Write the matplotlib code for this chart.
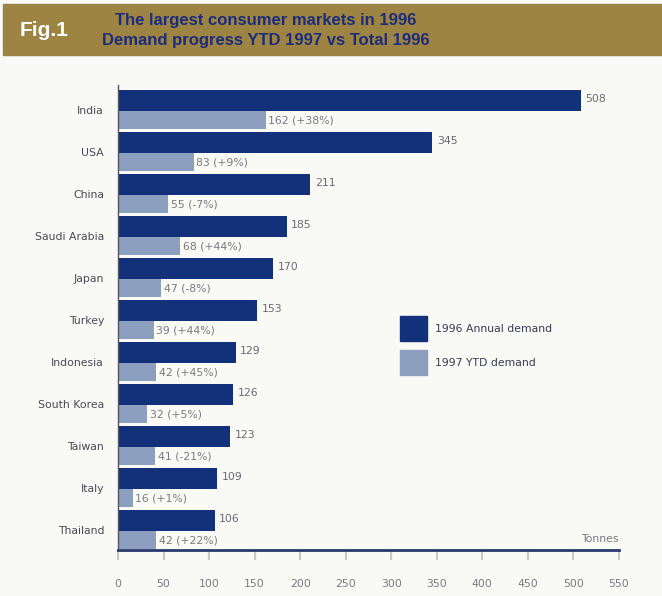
import matplotlib.pyplot as plt
from matplotlib.patches import Rectangle

countries = ["India", "USA", "China", "Saudi Arabia", "Japan", "Turkey",
             "Indonesia", "South Korea", "Taiwan", "Italy", "Thailand"]
annual_1996 = [508, 345, 211, 185, 170, 153, 129, 126, 123, 109, 106]
ytd_1997 = [162, 83, 55, 68, 47, 39, 42, 32, 41, 16, 42]
ytd_change = ["+38%", "+9%", "-7%", "+44%", "-8%", "+44%", "+45%", "+5%",
              "-21%", "+1%", "+22%"]
xticks = [0, 50, 100, 150, 200, 250, 300, 350, 400, 450, 500, 550]
series_names = ["1996 Annual demand", "1997 YTD demand"]

DARK = "#13307a"
LIGHT = "#8d9fbf"
BG = "#f9f9f5"
GOLD = "#9d8443"
GREY = "#7a7a80"
W, H = 662, 596

plt.rcParams['font.family'] = ['DejaVu Sans']

fig = plt.figure(figsize=(6.62, 5.96), dpi=100)
fig.patch.set_facecolor(BG)

# header band
fig.patches.append(Rectangle((0.005, 1 - 55 / H), 0.995, 51 / H,
                             transform=fig.transFigure, color=GOLD, zorder=0))
fig.text(0.03, 1 - 30 / H, "Fig.1", color="white", fontsize=15,
         fontweight="bold", va="center", ha="left",
         family=['Liberation Sans', 'DejaVu Sans'])
for yy, line in [(20, "The largest consumer markets in 1996"),
                 (41, "Demand progress YTD 1997 vs Total 1996")]:
    fig.text(0.402, 1 - yy / H, line, color="#1c2c7a", fontsize=12,
             fontweight="bold", ha="center", va="center",
             family=['Liberation Sans', 'DejaVu Sans'])

ax = fig.add_axes([118 / W, 1 - 550 / H, (619 - 118) / W, 465 / H])
ax.set_facecolor(BG)

pos = list(range(len(countries)))
dark_y = [p + 0.25 for p in pos]
light_y = [p + 0.715 for p in pos]
ax.barh(dark_y, annual_1996, height=0.5, color=DARK)
ax.barh(light_y, ytd_1997, height=0.43, color=LIGHT)

for y, v in zip(dark_y, annual_1996):
    ax.text(v + 5, y - 0.04, str(v), color="#6a6a72", fontsize=7.8, va="center")
for y, v, c in zip(light_y, ytd_1997, ytd_change):
    ax.text(v + 3, y + 0.02, f"{v} ({c})", color=GREY, fontsize=7.8, va="center")

ax.set_xlim(0, 550)
ax.set_ylim(10.95, -0.12)
ax.set_yticks([p + 0.47 for p in pos])
ax.set_yticklabels(countries)
ax.tick_params(axis="y", length=0, pad=10, labelsize=7.8, labelcolor="#4a4a55")
ax.set_xticks(xticks)
ax.tick_params(axis="x", length=7, width=1.5, color="#c8c8c8", direction="out",
               pad=14, labelsize=7.8, labelcolor=GREY)

for s in ["top", "right"]:
    ax.spines[s].set_visible(False)
ax.spines["bottom"].set_color("#2a3a70")
ax.spines["bottom"].set_linewidth(2)
ax.spines["left"].set_color("#555566")
ax.spines["left"].set_linewidth(1)

ax.text(1.0, 0.012, "Tonnes", transform=ax.transAxes,
        ha="right", va="bottom", fontsize=7.8, color=GREY)

# legend squares drawn by hand to get the tall swatches
for top, col, name in [(316, DARK, series_names[0]), (350, LIGHT, series_names[1])]:
    fig.patches.append(Rectangle((400 / W, 1 - (top + 25) / H), 27 / W, 25 / H,
                                 transform=fig.transFigure, color=col))
    fig.text(435 / W, 1 - (top + 12.5) / H, name, fontsize=7.8,
             color="#3a3a55", va="center", ha="left")

fig.savefig("out.png", dpi=100, facecolor=BG)
